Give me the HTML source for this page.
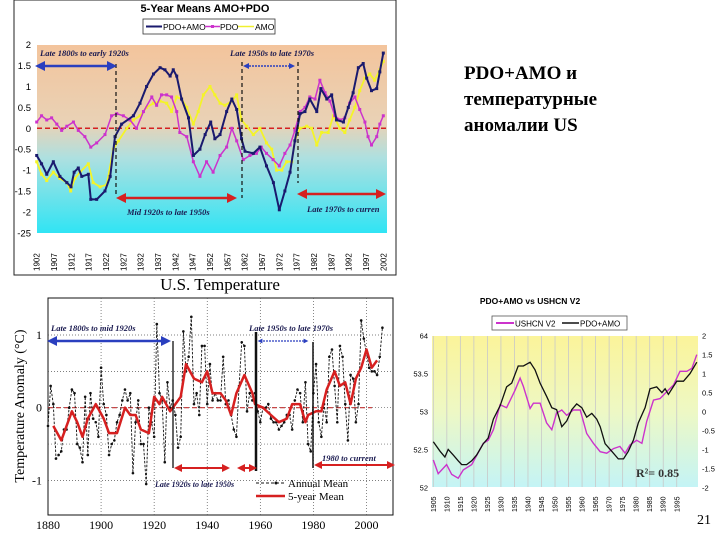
<!DOCTYPE html>
<html><head><meta charset="utf-8">
<style>
html,body{margin:0;padding:0;background:#fff;width:720px;height:540px;overflow:hidden}
svg{display:block}
.sans{font-family:"Liberation Sans",sans-serif}
.serif{font-family:"Liberation Serif",serif}
.ann{font-family:"Liberation Serif",serif;font-style:italic;font-weight:bold;fill:#1a1a50}
</style></head>
<body>
<svg id="s" width="720" height="540" viewBox="0 0 720 540" xmlns="http://www.w3.org/2000/svg">
<defs>
<linearGradient id="gTop" x1="0" y1="0" x2="0" y2="1">
<stop offset="0" stop-color="#f3c49c"/><stop offset="0.42" stop-color="#e9d2b6"/><stop offset="0.6" stop-color="#aee0e0"/><stop offset="1" stop-color="#30e4f4"/>
</linearGradient>
<linearGradient id="gBR" x1="0" y1="0" x2="0" y2="1">
<stop offset="0" stop-color="#fbf49a"/><stop offset="0.5" stop-color="#eef8c4"/><stop offset="1" stop-color="#c4f4f6"/>
</linearGradient>
<marker id="ab" viewBox="0 0 10 10" refX="5" refY="5" markerWidth="4" markerHeight="4" orient="auto-start-reverse"><path d="M0,0L10,5L0,10z" fill="#2a3fbf"/></marker>
<marker id="ar" viewBox="0 0 10 10" refX="5" refY="5" markerWidth="4" markerHeight="4" orient="auto-start-reverse"><path d="M0,0L10,5L0,10z" fill="#d62020"/></marker>
</defs>

<!-- top chart frame -->
<rect x="14" y="0" width="382" height="275" fill="#fff" stroke="#222" stroke-width="1"/>
<text x="205" y="12" text-anchor="middle" class="sans" font-size="11" font-weight="bold">5-Year Means AMO+PDO</text>
<g>
<rect x="143" y="19" width="132" height="15" fill="#fff" stroke="#333" stroke-width="0.8"/>
<line x1="146" y1="26.5" x2="162" y2="26.5" stroke="#1a1a6e" stroke-width="2"/>
<text x="163" y="30" class="sans" font-size="8.5">PDO+AMO</text>
<line x1="205" y1="26.5" x2="220" y2="26.5" stroke="#cc33cc" stroke-width="1.5"/>
<rect x="211" y="25" width="3" height="3" fill="#cc33cc"/>
<text x="220" y="30" class="sans" font-size="8.5">PDO</text>
<line x1="238" y1="26.5" x2="254" y2="26.5" stroke="#f0f030" stroke-width="1.5"/>
<text x="255" y="30" class="sans" font-size="8.5">AMO</text>
</g>
<rect x="37" y="45" width="350" height="188" fill="url(#gTop)"/>
<g id="topAxes"></g>
<g id="topSeries"></g>
<g>
<line x1="116" y1="64" x2="116" y2="195" stroke="#111" stroke-width="1.2" stroke-dasharray="4,3"/>
<line x1="242" y1="62" x2="242" y2="198" stroke="#111" stroke-width="1.2" stroke-dasharray="4,3"/>
<line x1="298" y1="62" x2="298" y2="183" stroke="#111" stroke-width="1.2" stroke-dasharray="4,3"/>
<line x1="40" y1="66" x2="112" y2="66" stroke="#2a3fbf" stroke-width="2.5" marker-start="url(#ab)" marker-end="url(#ab)"/>
<line x1="246" y1="66" x2="292" y2="66" stroke="#2a3fbf" stroke-width="1.5" stroke-dasharray="2,1" marker-start="url(#ab)" marker-end="url(#ab)"/>
<line x1="121" y1="198" x2="232" y2="198" stroke="#d62020" stroke-width="2.5" marker-start="url(#ar)" marker-end="url(#ar)"/>
<line x1="302" y1="194" x2="381" y2="194" stroke="#d62020" stroke-width="2.5" marker-start="url(#ar)" marker-end="url(#ar)"/>
<text x="40" y="56" class="ann" font-size="8.5">Late 1800s to early 1920s</text>
<text x="230" y="56" class="ann" font-size="8.5">Late 1950s to late 1970s</text>
<text x="127" y="215" class="ann" font-size="8.5">Mid 1920s to late 1950s</text>
<text x="307" y="212" class="ann" font-size="8.5">Late 1970s to curren</text>
</g>

<!-- bottom-left chart -->
<text x="220" y="290" text-anchor="middle" class="serif" font-size="17">U.S. Temperature</text>
<rect x="48" y="298" width="345" height="217" fill="#fff" stroke="#111" stroke-width="1"/>
<g id="blAxes"></g>
<g id="blSeries"></g>
<text transform="translate(24,406) rotate(-90)" text-anchor="middle" class="serif" font-size="14">Temperature Anomaly (°C)</text>
<g>
<line x1="173" y1="341" x2="173" y2="468" stroke="#111" stroke-width="1.3"/>
<line x1="256" y1="332" x2="256" y2="471" stroke="#111" stroke-width="2.5"/>
<line x1="313" y1="342" x2="313" y2="468" stroke="#111" stroke-width="1.5"/>
<line x1="52" y1="341" x2="166" y2="341" stroke="#2a3fbf" stroke-width="2.5" marker-start="url(#ab)" marker-end="url(#ab)"/>
<line x1="260" y1="341" x2="306" y2="341" stroke="#2a3fbf" stroke-width="1.2" stroke-dasharray="2,1" marker-start="url(#ab)" marker-end="url(#ab)"/>
<line x1="178" y1="468" x2="226" y2="468" stroke="#d62020" stroke-width="2" marker-start="url(#ar)" marker-end="url(#ar)"/>
<line x1="241" y1="468" x2="253" y2="468" stroke="#d62020" stroke-width="2" marker-start="url(#ar)" marker-end="url(#ar)"/>
<line x1="318" y1="465" x2="391" y2="465" stroke="#d62020" stroke-width="2" marker-start="url(#ar)" marker-end="url(#ar)"/>
<text x="51" y="331" class="ann" font-size="8.5" font-weight="normal">Late 1800s to mid 1920s</text>
<text x="249" y="331" class="ann" font-size="8.5" font-weight="normal">Late 1950s to late 1970s</text>
<text x="155" y="487" class="ann" font-size="8" font-weight="normal">Late 1920s to late 1950s</text>
<text x="322" y="461" class="ann" font-size="8.5" font-weight="normal">1980 to current</text>
</g>
<g>
<line x1="256" y1="483" x2="285" y2="483" stroke="#111" stroke-width="1" stroke-dasharray="3,2"/>
<circle cx="276" cy="483" r="1.5" fill="#111"/>
<text x="288" y="487" class="serif" font-size="11">Annual Mean</text>
<line x1="256" y1="496" x2="285" y2="496" stroke="#d62020" stroke-width="2.5"/>
<text x="288" y="500" class="serif" font-size="11">5-year Mean</text>
</g>

<!-- bottom-right chart -->
<text x="530" y="304" text-anchor="middle" class="sans" font-size="8.5" font-weight="bold">PDO+AMO vs USHCN V2</text>
<g>
<rect x="492" y="316" width="135" height="14" fill="#fff" stroke="#555" stroke-width="0.8"/>
<line x1="496" y1="323" x2="514" y2="323" stroke="#cc33cc" stroke-width="2"/>
<text x="515" y="326.5" class="sans" font-size="8">USHCN V2</text>
<line x1="562" y1="323" x2="579" y2="323" stroke="#111" stroke-width="1.5"/>
<text x="580" y="326.5" class="sans" font-size="8">PDO+AMO</text>
</g>
<rect x="432" y="336" width="266" height="151" fill="url(#gBR)"/>
<g id="brAxes"></g>
<g id="brSeries"></g>
<text x="636" y="477" class="serif" font-size="12" font-weight="bold" fill="#333">R²= 0.85</text>

<!-- slide text -->
<text class="serif" font-size="19" font-weight="bold">
<tspan x="464" y="79">PDO+AMO и</tspan><tspan x="464" y="105">температурные</tspan><tspan x="464" y="131">аномалии US</tspan></text>
<text x="697" y="524" class="serif" font-size="14">21</text>
</svg>

<script>
// ===== Top chart data: 5-Year Means AMO+PDO =====
const topYTicks = [2, 1.5, 1, 0.5, 0, -0.5, -1, -1.5, -2, -2.5];
const topYLabels = ["2","1.5","1","0.5","0","-0.5","-1","-1.5","-2","-25"];
const topXTicks = [1902,1907,1912,1917,1922,1927,1932,1937,1942,1947,1952,1957,1962,1967,1972,1977,1982,1987,1992,1997,2002];
const pdoAmoData = [[1902,-0.65],[1903.4,-0.85],[1904.9,-1.1],[1906.8,-0.8],[1908.7,-1.15],[1910.7,-1.3],[1911.9,-1.4],[1912.8,-1.05],[1914,-0.95],[1915,-1.15],[1916.9,-1.1],[1917.6,-1.7],[1919.3,-1.7],[1921.7,-1.5],[1923.2,-1.15],[1924.6,-0.2],[1926.5,0.1],[1929.9,0.3],[1931.8,0.6],[1933.7,1.0],[1935.7,1.3],[1937.6,1.45],[1939,1.4],[1940.5,1.25],[1941.4,1.4],[1942.4,1.25],[1943.8,0.7],[1945.8,0.25],[1947.2,-0.65],[1949.1,-0.5],[1950.6,-0.15],[1952.2,0.15],[1953.4,-0.25],[1954.9,-0.15],[1956.8,0.4],[1958.3,0.7],[1959.7,0.45],[1961.1,-0.25],[1962.1,-0.55],[1964.5,-0.6],[1966.4,-0.45],[1968.3,-0.9],[1970.3,-1.3],[1972,-1.95],[1973.6,-1.5],[1975.1,-1.05],[1976.5,-0.3],[1978,0.35],[1979.4,0.4],[1980.8,0.7],[1982.8,0.4],[1984,0.95],[1985.7,0.7],[1987.1,0.8],[1988.5,0.2],[1990.5,0.15],[1991.9,0.5],[1993.3,0.85],[1994.8,1.45],[1996.2,1.55],[1997.2,1.2],[1998.6,0.9],[2000.1,0.95],[2001,1.35],[2002,1.8]];
const pdoData = [[1902,0.15],[1903.4,0.3],[1904.9,0.2],[1906.3,0.25],[1907.8,0.1],[1909.2,-0.05],[1910.7,0.05],[1912.6,0.15],[1914,-0.05],[1915.9,-0.2],[1917.6,-0.45],[1919.3,-0.35],[1921.7,-0.15],[1923.6,0.3],[1925.1,0.35],[1927,0.3],[1928.9,0.2],[1930.8,0.0],[1932.8,0.4],[1935.2,0.75],[1936.6,0.55],[1938,0.8],[1939.5,0.8],[1940.9,0.75],[1942.4,0.4],[1943.3,-0.1],[1945.3,-0.2],[1947.2,-0.8],[1949.1,-1.15],[1951,-0.8],[1952.9,-1.05],[1954.9,-0.65],[1956.8,-0.45],[1958.3,0.0],[1959.7,-0.3],[1961.6,-0.75],[1963.5,-0.65],[1965.4,-0.6],[1966.8,-0.45],[1968.3,-0.6],[1970.2,-0.75],[1972,-0.9],[1973.6,-0.6],[1975.1,-0.4],[1976.5,-0.05],[1978,0.4],[1979.4,0.5],[1980.8,0.75],[1982.3,0.7],[1983.7,1.15],[1985.2,0.85],[1986.6,0.65],[1988,0.3],[1989.5,0.2],[1990.9,0.25],[1992.3,0.6],[1993.8,0.75],[1995.2,0.45],[1996.7,0.15],[1997.6,-0.2],[1998.6,-0.4],[2000.1,-0.2],[2001,0.1],[2002,0.3]];
const amoData = [[1902,-0.8],[1903.4,-1.1],[1904.9,-1.25],[1906.8,-1.05],[1908.7,-1.2],[1910.7,-1.3],[1911.8,-1.5],[1913,-1.2],[1914.5,-1.05],[1916.9,-0.85],[1918.3,-1.3],[1920.3,-1.4],[1922.2,-1.35],[1924.1,-0.5],[1925.6,-0.3],[1928,0.0],[1929.9,0.2],[1931.8,0.3],[1933.7,0.5],[1935.7,0.6],[1937.6,0.65],[1939.5,0.6],[1940.9,0.4],[1942.4,0.75],[1943.8,0.7],[1945.3,0.5],[1947.2,0.1],[1948.6,0.4],[1950.1,0.8],[1952,1.0],[1953.4,0.8],[1954.9,0.6],[1956.3,0.55],[1958.3,0.65],[1959.7,0.8],[1961.1,0.2],[1962.6,0.05],[1964.5,-0.15],[1966.4,0.0],[1968.3,-0.35],[1969.8,-0.5],[1971.2,-1.0],[1972.7,-1.0],[1974.1,-0.8],[1975.6,-0.8],[1976.5,-0.3],[1978,0.0],[1979.9,0.05],[1981.3,0.0],[1982.8,-0.4],[1984.2,-0.1],[1986.1,-0.1],[1987.6,0.3],[1989.5,0.0],[1990.9,-0.1],[1992.3,0.2],[1993.8,0.5],[1995.2,0.9],[1996.7,1.2],[1998.1,1.3],[1999.5,1.15],[2001,1.4],[2002,1.6]];

// ===== Bottom-left: U.S. Temperature =====
const blXTicks = [1880,1900,1920,1940,1960,1980,2000];
const blYTicks = [1, 0, -1];
const blGridY = [1, 0.5, 0, -0.5, -1];
const annualYears = [];
for (let y = 1880; y <= 2006; y++) annualYears.push(y);
const annualMean = [-0.25,0.3,0.05,-0.7,-0.65,-0.6,-0.3,-0.3,0.0,0.25,0.2,-0.5,-0.55,-0.75,0.15,-0.65,0.2,-0.15,-0.2,-0.4,0.55,0.05,-0.1,-0.65,-0.5,-0.45,-0.2,-0.1,0.1,0.25,0.1,0.2,-0.9,-0.2,0.1,-0.5,-0.5,-1.05,0.0,-0.2,-0.4,1.15,0.2,0.1,-0.75,0.35,0.0,0.1,-0.1,-0.55,-0.4,1.05,0.5,0.7,1.25,0.05,0.2,-0.1,0.85,0.85,0.05,0.6,0.1,0.2,0.1,0.1,0.7,0.05,0.1,-0.1,-0.3,-0.4,0.3,0.9,0.85,-0.05,0.2,0.1,0.2,-0.05,-0.2,0.0,0.0,0.05,-0.15,-0.2,-0.2,-0.3,-0.25,-0.2,-0.1,-0.1,-0.3,0.1,0.25,0.2,-0.2,0.35,-0.5,-0.6,0.2,0.6,-0.2,-0.4,0.05,-0.2,0.7,0.8,0.3,-0.2,0.85,0.7,0.05,-0.45,0.45,0.4,-0.2,0.05,1.2,0.95,0.75,0.55,0.5,0.5,0.45,0.7,1.1];
const fiveYearData = [[1882,-0.25],[1885,-0.45],[1889,-0.05],[1891,-0.2],[1893,-0.4],[1895,-0.15],[1898,0.05],[1901,-0.15],[1903,-0.35],[1906,-0.35],[1909,0.0],[1911,-0.1],[1913,-0.1],[1915,-0.3],[1918,-0.35],[1920,0.15],[1922,0.05],[1923,0.15],[1926,-0.05],[1928,0.05],[1930,0.15],[1932,0.6],[1935,0.4],[1938,0.35],[1940,0.5],[1942,0.2],[1945,0.2],[1947,0.1],[1949,-0.1],[1951,0.2],[1954,0.45],[1957,0.2],[1958,0.05],[1961,0.0],[1964,-0.1],[1967,-0.2],[1970,-0.15],[1972,0.05],[1975,0.05],[1977,-0.2],[1978,-0.1],[1981,-0.05],[1983,-0.05],[1985,0.25],[1988,0.5],[1990,0.3],[1992,0.35],[1994,0.05],[1996,0.4],[1998,0.55],[2000,0.8],[2002,0.55],[2004,0.65]];

// ===== Bottom-right: PDO+AMO vs USHCN V2 =====
const brXTicks = [1905,1910,1915,1920,1925,1930,1935,1940,1945,1950,1955,1960,1965,1970,1975,1980,1985,1990,1995];
const brLeftTicks = [54, 53.5, 53, 52.5, 52];
const brLeftLabels = ["64","53.5","53","52.5","52"];
const brRightTicks = [2,1.5,1,0.5,0,-0.5,-1,-1.5,-2];
const brPdoAmo = [[1905,-0.8],[1907.5,-1.05],[1909.3,-1.2],[1910.5,-1.0],[1912.4,-1.15],[1914.2,-1.3],[1915.5,-1.4],[1917.3,-1.4],[1919.2,-1.3],[1921,-1.15],[1923.5,-0.85],[1925.3,-0.7],[1927.2,-0.2],[1929.7,0.15],[1932.1,0.65],[1934,0.75],[1936.4,1.2],[1938.3,1.2],[1940.8,1.3],[1942.6,1.1],[1944.5,0.75],[1946.9,0.4],[1948.8,0.1],[1950.6,0.05],[1952.5,-0.4],[1954.3,-0.25],[1956.2,0.05],[1958,0.2],[1959.9,0.1],[1961.7,-0.15],[1963.6,-0.05],[1965.4,-0.2],[1966.7,-0.4],[1968.5,-0.85],[1971,-1.05],[1973.4,-1.25],[1975.3,-1.25],[1977.1,-1.05],[1979,-0.75],[1980.8,-0.3],[1983.3,0.1],[1985.1,0.6],[1987.6,0.65],[1989.5,0.5],[1990.7,0.6],[1991.9,0.45],[1995,0.8],[1997.5,0.8],[1999.9,1.0],[2002.4,1.3]];
const brUshcn = [[1905,52.36],[1906.8,52.18],[1909.9,52.3],[1911.8,52.17],[1914.2,52.12],[1916.1,52.23],[1919.2,52.3],[1923.5,52.58],[1925.3,52.62],[1927.2,52.76],[1929.7,53.09],[1932.1,53.05],[1935.2,53.28],[1937.1,53.44],[1938.3,53.33],[1940.8,53.04],[1942,53.11],[1944.5,53.11],[1946.9,52.85],[1948.8,52.76],[1950.6,52.98],[1952.5,53.02],[1954.3,52.95],[1956.8,53.02],[1959.3,53.02],[1961.7,52.71],[1964.2,52.58],[1966.7,52.47],[1969.1,52.45],[1971.6,52.51],[1974,52.54],[1975.9,52.45],[1977.7,52.56],[1980.2,52.62],[1982.1,52.58],[1983.9,52.87],[1986.4,53.15],[1988.8,53.17],[1991.3,53.26],[1993.8,53.35],[1996.2,53.53],[1998.7,53.53],[2000.6,53.57],[2002.4,53.75]];

const NS = "http://www.w3.org/2000/svg";
function mk(tag, attrs, parent, txt) {
  const e = document.createElementNS(NS, tag);
  for (const k in attrs) e.setAttribute(k, attrs[k]);
  if (txt !== undefined) e.textContent = txt;
  parent.appendChild(e);
  return e;
}
function pathFrom(pts, fx, fy) {
  return pts.map((p, i) => (i ? "L" : "M") + fx(p[0]).toFixed(1) + "," + fy(p[1]).toFixed(1)).join("");
}

// ---- Top chart
const tx = yr => 36.7 + (yr - 1902) * 3.466;
const ty = v => 128.3 - v * 41.8;
const tAx = document.getElementById("topAxes");
topYTicks.forEach((v, i) => {
  const t = mk("text", {x: 31, y: ty(v) + 3.5, "text-anchor": "end", class: "sans", "font-size": 9.5}, tAx, topYLabels[i]);
  
  
});
topXTicks.forEach(yr => {
  const t = mk("text", {transform: `translate(${tx(yr) + 3},271) rotate(-90)`, class: "sans", "font-size": 8}, tAx, String(yr));
  
  
});
const zl = mk("line", {x1: 37, x2: 387, y1: ty(0), y2: ty(0), stroke: "#d62020", "stroke-width": 1.5, "stroke-dasharray": "5,3"}, tAx);



const tS = document.getElementById("topSeries");
function topSeries(data, color, w, name, marker) {
  const p = mk("path", {d: pathFrom(data, tx, ty), fill: "none", stroke: color, "stroke-width": w, "stroke-linejoin": "round"}, tS);
  
  
  if (marker) data.forEach(d => {
    const r = mk("rect", {x: tx(d[0]) - 1.5, y: ty(d[1]) - 1.5, width: 3, height: 3, fill: color}, tS);
    
    
  });
}
topSeries(amoData, "#f4f428", 1.8, "amo-line", true);
topSeries(pdoData, "#cc33cc", 1.5, "pdo-line", true);
topSeries(pdoAmoData, "#1a1a6e", 2, "pdo-amo-line", true);

// ---- Bottom-left chart
const bx = yr => 48 + (yr - 1880) * 2.654;
const by = v => 407.7 - v * 72.7;
const bAx = document.getElementById("blAxes");
blXTicks.forEach(yr => {
  if (yr > 1880) {
    const g = mk("line", {x1: bx(yr), x2: bx(yr), y1: 298, y2: 515, stroke: "#555", "stroke-width": 0.7, "stroke-dasharray": "1,2"}, bAx);
    
    
  }
  const t = mk("text", {x: bx(yr), y: 529, "text-anchor": "middle", class: "serif", "font-size": 12}, bAx, String(yr));
  
  
});
blGridY.forEach(v => {
  const g = mk("line", {x1: 48, x2: 393, y1: by(v), y2: by(v), stroke: "#555", "stroke-width": 0.7, "stroke-dasharray": "1,2"}, bAx);
  
  
});
blYTicks.forEach(v => {
  const t = mk("text", {x: 42, y: by(v) + 4, "text-anchor": "end", class: "serif", "font-size": 12}, bAx, String(v));
  
  
});
const bz = mk("line", {x1: 48, x2: 372, y1: by(0), y2: by(0), stroke: "#c03030", "stroke-width": 1.2, "stroke-dasharray": "5,3"}, bAx);



const bS = document.getElementById("blSeries");
const annPts = annualYears.map((y, i) => [y, annualMean[i]]);
const ap = mk("path", {d: pathFrom(annPts, bx, by), fill: "none", stroke: "#111", "stroke-width": 0.9, "stroke-dasharray": "2.5,1.5"}, bS);


annPts.forEach(p => {
  const c = mk("circle", {cx: bx(p[0]), cy: by(p[1]), r: 1.3, fill: "#111"}, bS);
  
  
});
const fp = mk("path", {d: pathFrom(fiveYearData, bx, by), fill: "none", stroke: "#d62020", "stroke-width": 2.5, "stroke-linejoin": "round"}, bS);



// ---- Bottom-right chart
const rx = yr => 433.3 + (yr - 1905) * 2.705;
const ryL = v => 364.5 / 3 + 290 - (v - 53) * 75.8;
const ryR = v => 364.5 / 3 + 290 - v * 37.9;
const rAx = document.getElementById("brAxes");
brXTicks.forEach(yr => {
  const g = mk("line", {x1: rx(yr), x2: rx(yr), y1: 336, y2: 487, stroke: "#c8c8c8", "stroke-width": 0.8}, rAx);
  
  
  const t = mk("text", {transform: `translate(${rx(yr) + 2.5},512) rotate(-90)`, class: "sans", "font-size": 7}, rAx, String(yr));
  
  
});
brLeftTicks.forEach((v, i) => {
  const t = mk("text", {x: 428, y: ryL(v) + 3, "text-anchor": "end", class: "sans", "font-size": 7.5}, rAx, brLeftLabels[i]);
  
  
});
brRightTicks.forEach(v => {
  const t = mk("text", {x: 702, y: ryR(v) + 3, class: "sans", "font-size": 7.5}, rAx, String(v));
  
  
});
const rS = document.getElementById("brSeries");
const up = mk("path", {d: pathFrom(brUshcn, rx, ryL), fill: "none", stroke: "#cc33cc", "stroke-width": 1.4}, rS);


const kp = mk("path", {d: pathFrom(brPdoAmo, rx, ryR), fill: "none", stroke: "#111", "stroke-width": 1.3}, rS);


</script>
</body></html>
